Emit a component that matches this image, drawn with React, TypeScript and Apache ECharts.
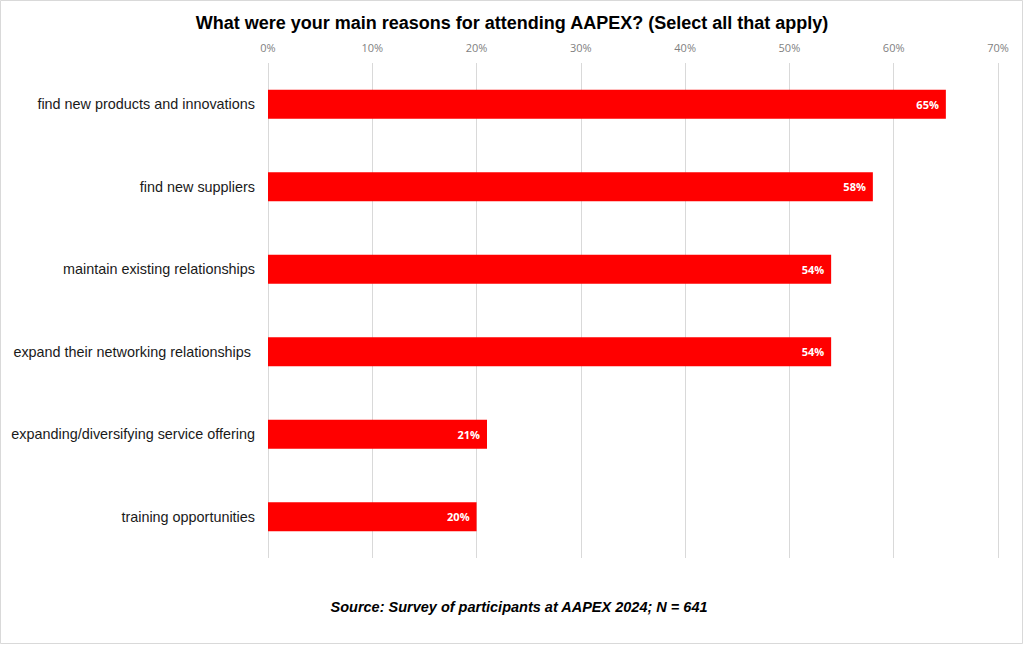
import React, { useEffect, useRef } from 'react';
import * as echarts from 'echarts';

const reasons = [
  'find new products and innovations',
  'find new suppliers',
  'maintain existing relationships',
  'expand their networking relationships ',
  'expanding/diversifying service offering',
  'training opportunities',
];
const shares = [65, 58, 54, 54, 21, 20];

const chartTitle = 'What were your main reasons for attending AAPEX? (Select all that apply)';
const sourceNote = 'Source: Survey of participants at AAPEX 2024; N = 641';

function App() {
  const chartRef = useRef<HTMLDivElement>(null);

  useEffect(() => {
    document.body.style.margin = '0';
    if (!chartRef.current) return;
    const chart = echarts.init(chartRef.current, null, { renderer: 'svg' });

    const options = {
      animation: false,
      backgroundColor: '#ffffff',
      title: {
        text: chartTitle,
        left: 'center',
        top: 9,
        textStyle: {
          fontFamily: 'Liberation Sans',
          fontSize: 18,
          fontWeight: 'bold',
          color: '#000000',
        },
      },
      graphic: [
        {
          type: 'rect',
          shape: { x: 0.5, y: 0.5, width: 1022, height: 643 },
          style: { fill: 'none', stroke: '#d9d9d9', lineWidth: 1 },
          silent: true,
        },
        {
          type: 'text',
          x: 519,
          y: 607,
          style: {
            text: sourceNote,
            fontFamily: 'Liberation Sans',
            fontSize: 14.5,
            fontWeight: 'bold',
            fontStyle: 'italic',
            fill: '#000000',
            align: 'center',
            verticalAlign: 'middle',
          },
        },
      ],
      grid: {
        left: 268,
        right: 26,
        top: 63,
        bottom: 87,
        containLabel: false,
      },
      xAxis: {
        type: 'value',
        position: 'top',
        min: 0,
        max: 70,
        interval: 10,
        axisLine: { show: false },
        axisTick: { show: false },
        axisLabel: {
          formatter: '{value}%',
          color: '#7f7f7f',
          fontFamily: 'Open Sans',
          fontSize: 11,
          margin: 10,
        },
        splitLine: { lineStyle: { color: '#d9d9d9', width: 1 } },
      },
      yAxis: {
        type: 'category',
        data: reasons,
        inverse: true,
        axisLine: { show: false },
        axisTick: { show: false },
        axisLabel: {
          color: '#1a1a1a',
          fontFamily: 'Liberation Sans',
          fontSize: 14.4,
          margin: 13,
        },
      },
      series: [
        {
          type: 'bar',
          data: shares,
          barWidth: 29,
          itemStyle: { color: '#ff0000' },
          label: {
            show: true,
            position: 'insideRight',
            distance: 7,
            formatter: '{c}%',
            color: '#ffffff',
            fontFamily: 'Open Sans',
            fontSize: 11,
            fontWeight: 'bold',
          },
        },
      ],
    };

    chart.setOption(options);
    return () => {
      chart.dispose();
    };
  }, []);

  return <div ref={chartRef} style={{ width: '1024px', height: '645px' }} />;
}

export default App;
